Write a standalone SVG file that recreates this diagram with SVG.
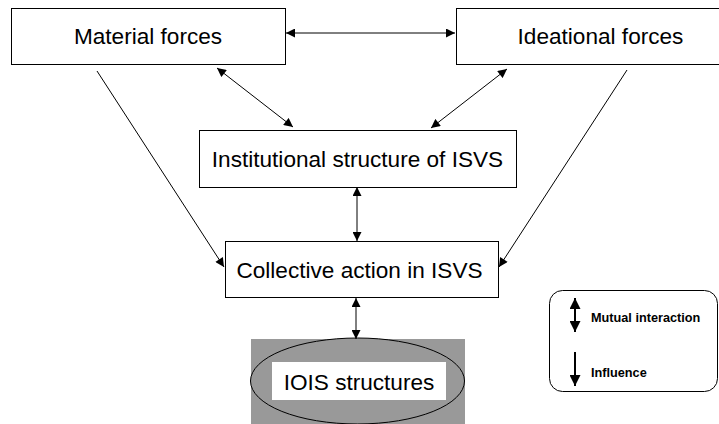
<svg xmlns="http://www.w3.org/2000/svg" width="719" height="424" viewBox="0 0 719 424">
  <style>
    .box { fill: #ffffff; stroke: #000000; stroke-width: 1; }
    .lbl { font-family: "Liberation Sans", Arial, sans-serif; font-size: 22.6px; fill: #000000; text-anchor: middle; }
    .leg { font-family: "Liberation Sans", Arial, sans-serif; font-size: 12.7px; font-weight: bold; fill: #000000; }
    .conn { stroke: #000000; stroke-width: 1; fill: none; }
    .legarrow { stroke: #000000; stroke-width: 2; fill: none; }
  </style>
  <defs>
    <marker id="ah" viewBox="0 0 10 10" refX="10" refY="5" markerWidth="11" markerHeight="9" markerUnits="userSpaceOnUse" orient="auto-start-reverse">
      <path d="M0,0 L10,5 L0,10 z" fill="#000000"/>
    </marker>
    <marker id="ahl" viewBox="0 0 10 10" refX="10" refY="5" markerWidth="11" markerHeight="11" markerUnits="userSpaceOnUse" orient="auto-start-reverse">
      <path d="M0,0 L10,5 L0,10 z" fill="#000000"/>
    </marker>
  </defs>
  <rect width="719" height="424" fill="#ffffff"/>

  <g id="material-forces">
    <rect class="box" x="11.5" y="8.5" width="274" height="56"/>
    <text class="lbl" x="148" y="44">Material forces</text>
  </g>

  <g id="ideational-forces">
    <rect class="box" x="456.5" y="8.5" width="290" height="56"/>
    <text class="lbl" x="600.5" y="44">Ideational forces</text>
  </g>

  <g id="institutional-structure">
    <rect class="box" x="199.5" y="130.5" width="317" height="57"/>
    <text class="lbl" x="357.5" y="166.5">Institutional structure of ISVS</text>
  </g>

  <g id="collective-action">
    <rect class="box" x="225.5" y="241.5" width="273" height="56"/>
    <text class="lbl" x="359.5" y="277.5">Collective action in ISVS</text>
  </g>

  <g id="iois-structures">
    <rect x="251" y="339" width="214" height="85" fill="#999999"/>
    <ellipse cx="357.5" cy="381" rx="107" ry="43" fill="#999999" stroke="#000000" stroke-width="1"/>
    <rect x="272" y="362" width="174" height="38" fill="#ffffff"/>
    <text class="lbl" x="359" y="390">IOIS structures</text>
  </g>

  <g id="connectors">
    <line class="conn" x1="286" y1="33" x2="455" y2="33" marker-start="url(#ah)" marker-end="url(#ah)"/>
    <line class="conn" x1="217" y1="68" x2="293" y2="127" marker-start="url(#ah)" marker-end="url(#ah)"/>
    <line class="conn" x1="507" y1="69" x2="431" y2="128" marker-start="url(#ah)" marker-end="url(#ah)"/>
    <line class="conn" x1="97" y1="71" x2="224" y2="267" marker-end="url(#ah)"/>
    <line class="conn" x1="627" y1="70" x2="499" y2="267" marker-end="url(#ah)"/>
    <line class="conn" x1="357" y1="187" x2="357" y2="241" marker-start="url(#ah)" marker-end="url(#ah)"/>
    <line class="conn" x1="356" y1="298" x2="356" y2="339" marker-start="url(#ah)" marker-end="url(#ah)"/>
  </g>

  <g id="legend">
    <rect x="549.5" y="290.5" width="168" height="101" rx="13" ry="13" fill="#ffffff" stroke="#000000" stroke-width="1"/>
    <line class="legarrow" x1="575" y1="298" x2="575" y2="332" marker-start="url(#ahl)" marker-end="url(#ahl)"/>
    <text class="leg" x="591" y="322">Mutual interaction</text>
    <line class="legarrow" x1="575" y1="352" x2="575" y2="386" marker-end="url(#ahl)"/>
    <text class="leg" x="591" y="377">Influence</text>
  </g>
</svg>
